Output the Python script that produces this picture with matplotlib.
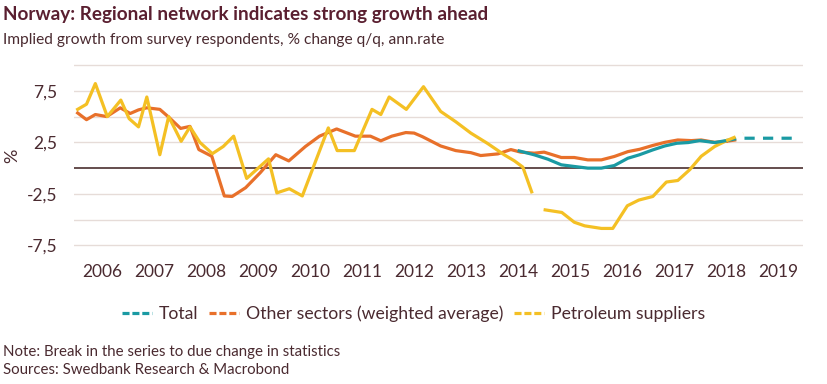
import matplotlib
matplotlib.use("Agg")
import matplotlib.pyplot as plt
from matplotlib.lines import Line2D

plt.rcParams["font.family"] = ["Lato", "DejaVu Sans"]

# --- data (decimal years, % change q/q ann. rate) ---
petro_t1 = [2006.03, 2006.20, 2006.37, 2006.60, 2006.86, 2007.02, 2007.20, 2007.36,
            2007.61, 2007.78, 2008.02, 2008.19, 2008.38, 2008.62, 2008.83, 2009.03,
            2009.28, 2009.70, 2009.86, 2010.10, 2010.35, 2010.85, 2011.02, 2011.35,
            2011.69, 2011.86, 2012.02, 2012.35, 2012.68, 2013.01, 2013.30, 2013.59,
            2013.91, 2014.23, 2014.43, 2014.59, 2014.76]
petro_v1 = [5.7, 6.2, 8.2, 5.0, 6.6, 4.8, 4.0, 6.9,
            1.3, 5.0, 2.6, 4.0, 2.5, 1.4, 2.1, 3.1,
            -1.0, 0.9, -2.4, -2.0, -2.7, 3.9, 1.7, 1.7,
            5.7, 5.2, 6.9, 5.7, 7.9, 5.5, 4.5, 3.4,
            2.4, 1.3, 0.7, 0.1, -2.3]
petro_t2 = [2015.02, 2015.34, 2015.58, 2015.78, 2016.10, 2016.32, 2016.60, 2016.82,
            2017.09, 2017.35, 2017.57, 2017.80, 2018.02, 2018.28, 2018.50]
petro_v2 = [-4.05, -4.3, -5.25, -5.6, -5.85, -5.85, -3.65, -3.1,
            -2.75, -1.35, -1.2, -0.15, 1.15, 2.1, 2.65]
petro_ft = [2018.50, 2018.83]
petro_fv = [2.65, 3.35]

other_t = [2006.03, 2006.20, 2006.37, 2006.59, 2006.85, 2007.04, 2007.20, 2007.36,
           2007.61, 2007.78, 2008.01, 2008.19, 2008.36, 2008.61, 2008.85, 2009.00,
           2009.26, 2009.54, 2009.84, 2010.09, 2010.41, 2010.68, 2011.01, 2011.37,
           2011.66, 2011.86, 2012.07, 2012.34, 2012.50, 2012.66, 2013.01, 2013.30,
           2013.59, 2013.78, 2014.11, 2014.36, 2014.55, 2014.81, 2015.00, 2015.33,
           2015.58, 2015.84, 2016.10, 2016.35, 2016.61, 2016.84, 2017.09, 2017.32,
           2017.57, 2017.83, 2018.02, 2018.28, 2018.50]
other_v = [5.35, 4.7, 5.2, 5.0, 5.85, 5.3, 5.65, 5.85,
           5.7, 4.95, 3.85, 4.05, 1.8, 1.15, -2.7, -2.75,
           -1.9, -0.45, 1.3, 0.7, 2.1, 3.1, 3.8, 3.1,
           3.1, 2.65, 3.1, 3.45, 3.4, 3.05, 2.15, 1.7,
           1.5, 1.22, 1.38, 1.8, 1.55, 1.45, 1.55, 1.03,
           1.03, 0.8, 0.8, 1.13, 1.6, 1.83, 2.2, 2.5,
           2.73, 2.67, 2.73, 2.5, 2.6]
other_ft = [2018.50, 2018.83]
other_fv = [2.6, 2.85]

total_t = [2014.52, 2014.81, 2015.07, 2015.33, 2015.58, 2015.84, 2016.10, 2016.35,
           2016.61, 2016.83, 2017.09, 2017.32, 2017.55, 2017.77, 2017.99, 2018.28,
           2018.50]
total_v = [1.67, 1.29, 0.87, 0.32, 0.16, 0.0, 0.0, 0.25,
           0.96, 1.29, 1.77, 2.15, 2.41, 2.48, 2.67, 2.48,
           2.67]
total_ft = [2018.50, 2018.75, 2019.82]
total_fv = [2.67, 2.9, 2.9]

years = list(range(2006, 2020))
ytick_vals = [-7.5, -2.5, 2.5, 7.5]
ytick_labels = ["-7,5", "-2,5", "2,5", "7,5"]
grid_vals = [-7.5, -5.0, -2.5, 2.5, 5.0, 7.5, 10.0]

TEAL = "#1a9aa3"
ORANGE = "#e8702a"
YELLOW = "#f4c024"
TEXT = "#4a2a30"
GRID = "#e6dcd8"
dash = (0, (3.2, 2.6))

fig = plt.figure(figsize=(8.27, 3.84), dpi=100)
ax = fig.add_axes([0.0895, 0.334, 0.881, 0.502])

for g in grid_vals:
    ax.axhline(g, color=GRID, lw=1.0, zorder=0)
ax.axhline(0, color="#3a1c1c", lw=1.1, zorder=1)

lw = 2.3
ax.plot(other_t, other_v, color=ORANGE, lw=lw, zorder=2, solid_joinstyle="round")
ax.plot(other_ft, other_fv, color=ORANGE, lw=lw, ls=dash, zorder=2)
ax.plot(petro_t1, petro_v1, color=YELLOW, lw=lw, zorder=3, solid_joinstyle="round")
ax.plot(petro_t2, petro_v2, color=YELLOW, lw=lw, zorder=3, solid_joinstyle="round")
ax.plot(total_t, total_v, color=TEAL, lw=lw, zorder=4, solid_joinstyle="round")
ax.plot(total_ft, total_fv, color=TEAL, lw=lw, ls=dash, zorder=4)
ax.plot(petro_ft, petro_fv, color=YELLOW, lw=lw, ls=dash, zorder=5)

ax.set_xlim(2005.96, 2019.97)
ax.set_ylim(-8.5, 10.2)
ax.set_yticks(ytick_vals)
ax.set_yticklabels(ytick_labels)
ax.set_xticks([y + 0.5 for y in years])
ax.set_xticklabels([str(y) for y in years])
ax.tick_params(length=0, labelsize=12.5, colors=TEXT, pad=6)
ax.tick_params(axis="y", pad=12)
for s in ax.spines.values():
    s.set_visible(False)

fig.text(0.015, 0.595, "%", rotation=90, fontsize=13, color=TEXT, va="center", ha="center")

fig.text(0.004, 0.962, "Norway: Regional network indicates strong growth ahead",
         fontsize=13.6, fontweight="bold", color="#5a1f30", va="center")
fig.text(0.004, 0.895, "Implied growth from survey respondents, % change q/q, ann.rate",
         fontsize=11.2, color=TEXT, va="center")

handles = [Line2D([], [], color=c, lw=2.3, ls=(0, (2.2, 0.9))) for c in (TEAL, ORANGE, YELLOW)]
fig.legend(handles, ["Total", "Other sectors (weighted average)", "Petroleum suppliers"],
           loc="center", bbox_to_anchor=(0.5, 0.182), ncol=3, frameon=False,
           fontsize=12.7, handlelength=1.7, handletextpad=0.4, columnspacing=0.6,
           labelcolor=TEXT)

fig.text(0.004, 0.083, "Note: Break in the series to due change in statistics",
         fontsize=10.8, color=TEXT, va="center")
fig.text(0.004, 0.036, "Sources: Swedbank Research & Macrobond",
         fontsize=10.8, color=TEXT, va="center")

fig.savefig("out.png", dpi=100, facecolor="white")
